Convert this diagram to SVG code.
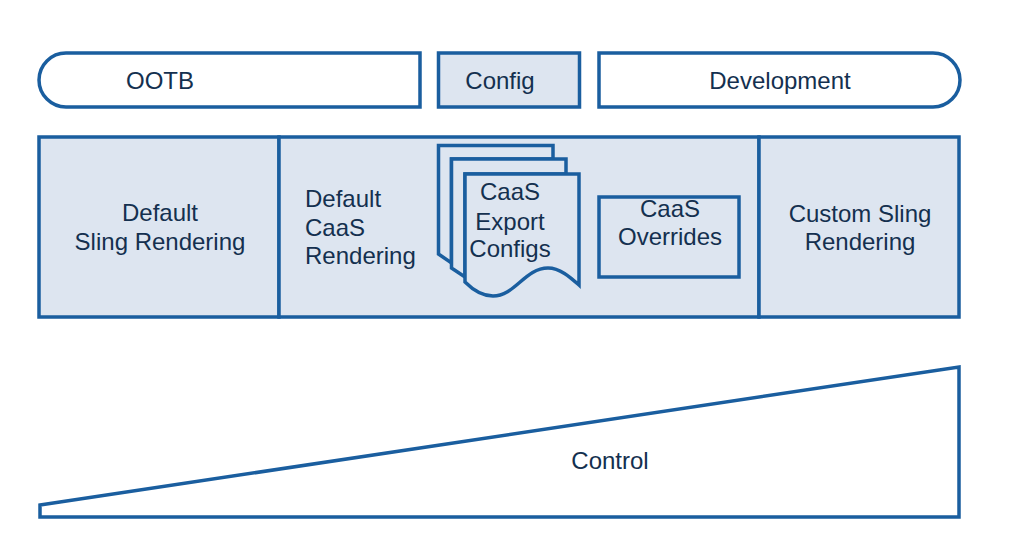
<svg xmlns="http://www.w3.org/2000/svg" width="1012" height="552" viewBox="0 0 1012 552">
<style>
.s{stroke:#1a5e9f;stroke-width:3.5;stroke-linejoin:miter}
.f{fill:#dde5f0}
.n{fill:#fff}
text{font-family:"Liberation Sans",Arial,sans-serif;font-size:24px;fill:#14304f;text-anchor:middle}
.l{text-anchor:start}
</style>
<rect width="1012" height="552" fill="#fff"/>
<g id="connectors"/>
<g id="ootb"><path class="s n" d="M66 53H420V107H66A27 27 0 0 1 66 53Z"/><text x="160" y="89">OOTB</text></g>
<g id="config"><rect class="s f" x="438.5" y="53" width="141" height="54"/><text x="500" y="89">Config</text></g>
<g id="development"><path class="s n" d="M599 53H933A27 27 0 0 1 933 107H599Z"/><text x="780" y="89">Development</text></g>
<g id="default-sling"><rect class="s f" x="39" y="137" width="240" height="180"/><text x="160" y="221">Default</text><text x="160" y="250">Sling Rendering</text></g>
<g id="default-caas"><rect class="s f" x="279" y="137" width="480" height="180"/><text class="l" x="305" y="207">Default</text><text class="l" x="305" y="236">CaaS</text><text class="l" x="305" y="264">Rendering</text></g>
<g id="export-configs">
<path class="s f" d="M438.5 145.500H553V159H451.500V263L438.500 254Z"/>
<path class="s f" d="M451.500 159H566V174H465V277L451.500 268Z"/>
<path class="s f" d="M465 174H579V285C570 277 560 268 548 268C525 268 515 296 493 296C485 296 475 292 465 282Z"/>
<text x="510" y="200">CaaS</text><text x="510" y="230">Export</text><text x="510" y="257">Configs</text></g>
<g id="overrides"><rect class="s f" x="599" y="197" width="140" height="80"/><text x="670" y="217">CaaS</text><text x="670" y="245">Overrides</text></g>
<g id="custom-sling"><rect class="s f" x="759" y="137" width="200" height="180"/><text x="860" y="222">Custom Sling</text><text x="860" y="250">Rendering</text></g>
<g id="control"><path class="s n" d="M40 505L959 367V517H40Z"/><text x="610" y="469">Control</text></g>
</svg>
